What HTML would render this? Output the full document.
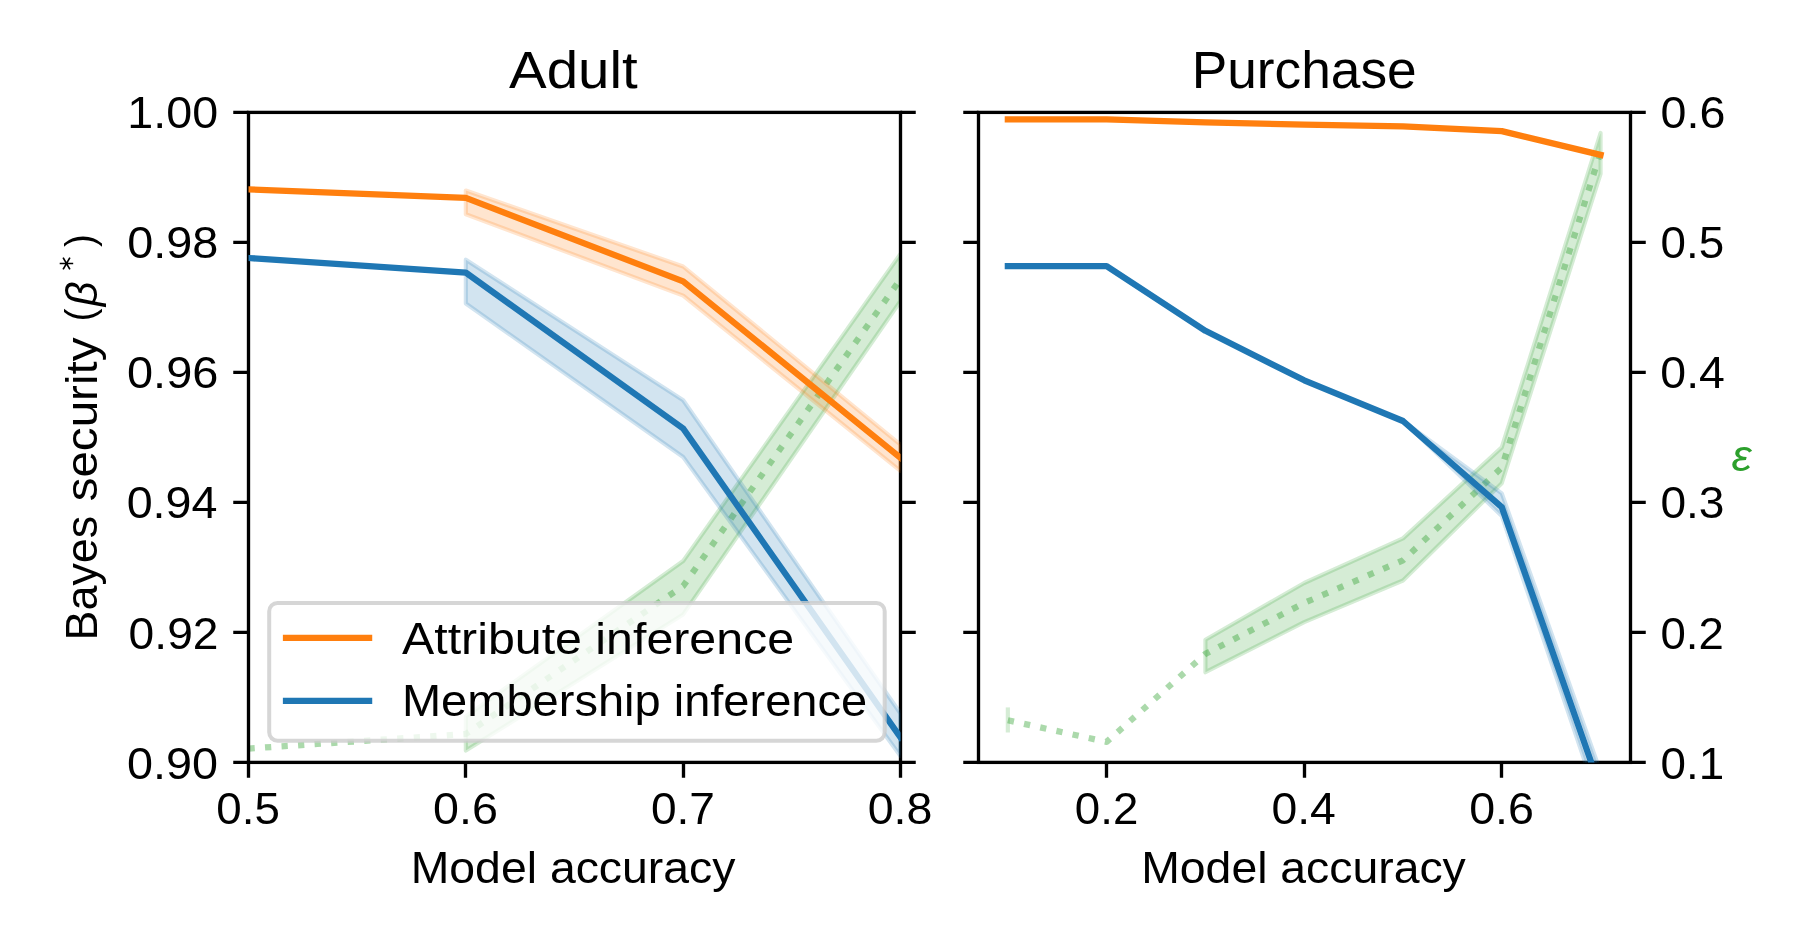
<!DOCTYPE html>
<html><head><meta charset="utf-8"><style>html,body{margin:0;padding:0;background:#fff;overflow:hidden}svg{display:block;will-change:transform}text{font-kerning:none}</style></head>
<body><svg width="1800" height="937" viewBox="0 0 1800 937"><defs><clipPath id="cl"><rect x="248.5" y="112.4" width="652.0" height="650.0"/></clipPath><clipPath id="cr"><rect x="978.5" y="112.4" width="652.0" height="650.0"/></clipPath></defs>
<rect x="0" y="0" width="1800" height="937" fill="#fff"/>
<path d="M465.83,716.50 L683.17,561.00 L900.50,253.90 L900.50,301.00 L683.17,614.40 L465.83,750.60 Z" fill="#2ca02c" fill-opacity="0.2" stroke="#2ca02c" stroke-opacity="0.2" stroke-width="4.17" stroke-linejoin="round" clip-path="url(#cl)"/>
<polyline points="248.50,748.60 465.83,734.00 683.17,586.00 900.50,279.00" fill="none" stroke="#2ca02c" stroke-opacity="0.4" stroke-width="6.25" stroke-dasharray="6.25 10.31" stroke-linecap="butt" stroke-linejoin="round" clip-path="url(#cl)"/>
<path d="M1205.41,639.80 L1304.20,583.00 L1402.99,538.40 L1501.78,447.40 L1600.56,133.00 L1600.56,173.80 L1501.78,483.20 L1402.99,580.50 L1304.20,622.20 L1205.41,672.20 Z" fill="#2ca02c" fill-opacity="0.2" stroke="#2ca02c" stroke-opacity="0.2" stroke-width="4.17" stroke-linejoin="round" clip-path="url(#cr)"/>
<line x1="1007.84" y1="707.4" x2="1007.84" y2="732.5" stroke="#2ca02c" stroke-opacity="0.2" stroke-width="4.17"/>
<polyline points="1007.84,720.30 1106.62,741.90 1205.41,653.90 1304.20,603.00 1402.99,560.30 1501.78,467.60 1600.56,152.00" fill="none" stroke="#2ca02c" stroke-opacity="0.4" stroke-width="6.25" stroke-dasharray="6.25 10.31" stroke-linecap="butt" stroke-linejoin="round" clip-path="url(#cr)"/>
<rect x="248.5" y="112.4" width="652.0" height="650.0" stroke="#000" stroke-width="3.33" fill="none" stroke-linejoin="miter" stroke-linecap="square"/>
<rect x="978.5" y="112.4" width="652.0" height="650.0" stroke="#000" stroke-width="3.33" fill="none" stroke-linejoin="miter" stroke-linecap="square"/>
<path d="M233.25,762.40 H248.5 M900.5,762.40 H915.75 M233.25,632.40 H248.5 M900.5,632.40 H915.75 M233.25,502.40 H248.5 M900.5,502.40 H915.75 M233.25,372.40 H248.5 M900.5,372.40 H915.75 M233.25,242.40 H248.5 M900.5,242.40 H915.75 M233.25,112.40 H248.5 M900.5,112.40 H915.75 M963.25,762.40 H978.5 M1630.5,762.40 H1645.75 M963.25,632.40 H978.5 M1630.5,632.40 H1645.75 M963.25,502.40 H978.5 M1630.5,502.40 H1645.75 M963.25,372.40 H978.5 M1630.5,372.40 H1645.75 M963.25,242.40 H978.5 M1630.5,242.40 H1645.75 M963.25,112.40 H978.5 M1630.5,112.40 H1645.75 M248.50,762.4 V777.65 M465.50,762.4 V777.65 M683.50,762.4 V777.65 M900.50,762.4 V777.65 M1106.50,762.4 V777.65 M1304.50,762.4 V777.65 M1501.50,762.4 V777.65" stroke="#000" stroke-width="3.33" fill="none"/>
<path d="M465.83,190.50 L683.17,266.50 L900.50,444.70 L900.50,471.00 L683.17,295.60 L465.83,214.20 Z" fill="#ff7f0e" fill-opacity="0.2" stroke="#ff7f0e" stroke-opacity="0.2" stroke-width="4.17" stroke-linejoin="round" clip-path="url(#cl)"/>
<polyline points="248.50,189.40 465.83,197.90 683.17,281.40 900.50,457.80" fill="none" stroke="#ff7f0e" stroke-width="6.25" stroke-linecap="square" stroke-linejoin="round" clip-path="url(#cl)" />
<path d="M465.83,259.70 L683.17,400.20 L900.50,713.50 L900.50,756.00 L683.17,457.00 L465.83,303.50 Z" fill="#1f77b4" fill-opacity="0.2" stroke="#1f77b4" stroke-opacity="0.2" stroke-width="4.17" stroke-linejoin="round" clip-path="url(#cl)"/>
<polyline points="248.50,258.00 465.83,272.60 683.17,428.50 900.50,737.50" fill="none" stroke="#1f77b4" stroke-width="6.25" stroke-linecap="square" stroke-linejoin="round" clip-path="url(#cl)" />
<polyline points="1007.84,119.30 1106.62,119.40 1205.41,122.40 1304.20,124.60 1402.99,126.40 1501.78,131.10 1600.56,154.90" fill="none" stroke="#ff7f0e" stroke-width="6.25" stroke-linecap="square" stroke-linejoin="round" clip-path="url(#cr)" />
<path d="M1402.99,421.00 L1501.78,493.40 L1600.56,772.00 L1600.56,808.00 L1501.78,515.90 L1402.99,421.00 Z" fill="#1f77b4" fill-opacity="0.2" stroke="#1f77b4" stroke-opacity="0.2" stroke-width="4.17" stroke-linejoin="round" clip-path="url(#cr)"/>
<polyline points="1007.84,266.20 1106.62,266.20 1205.41,330.80 1304.20,380.30 1402.99,421.00 1501.78,507.10 1600.56,788.90" fill="none" stroke="#1f77b4" stroke-width="6.25" stroke-linecap="square" stroke-linejoin="round" clip-path="url(#cr)" />
<rect x="269.2" y="603" width="615.5" height="137.7" rx="8.33" ry="8.33" fill="#fff" fill-opacity="0.8" stroke="#ccc" stroke-opacity="0.8" stroke-width="4.0"/>
<line x1="286" y1="637.8" x2="369.1" y2="637.8" stroke="#ff7f0e" stroke-width="6.25" stroke-linecap="square"/>
<line x1="286" y1="700.8" x2="369.1" y2="700.8" stroke="#1f77b4" stroke-width="6.25" stroke-linecap="square"/>
<g font-family='"Liberation Sans", sans-serif'><text x="509.01" y="87.70" font-size="52.4" fill="#000" textLength="128.62" lengthAdjust="spacingAndGlyphs">Adult</text><text x="1191.67" y="87.70" font-size="52.4" fill="#000" textLength="225.02" lengthAdjust="spacingAndGlyphs">Purchase</text><text x="127.05" y="778.80" font-size="44.2" fill="#000" textLength="91.09" lengthAdjust="spacingAndGlyphs">0.90</text><text x="128.62" y="648.80" font-size="44.2" fill="#000" textLength="89.92" lengthAdjust="spacingAndGlyphs">0.92</text><text x="126.66" y="517.80" font-size="44.2" fill="#000" textLength="90.82" lengthAdjust="spacingAndGlyphs">0.94</text><text x="127.05" y="387.80" font-size="44.2" fill="#000" textLength="91.27" lengthAdjust="spacingAndGlyphs">0.96</text><text x="127.16" y="257.80" font-size="44.2" fill="#000" textLength="91.15" lengthAdjust="spacingAndGlyphs">0.98</text><text x="127.37" y="127.80" font-size="44.2" fill="#000" textLength="90.77" lengthAdjust="spacingAndGlyphs">1.00</text><text x="1660.48" y="778.80" font-size="44.2" fill="#000" textLength="63.68" lengthAdjust="spacingAndGlyphs">0.1</text><text x="1660.51" y="648.80" font-size="44.2" fill="#000" textLength="63.36" lengthAdjust="spacingAndGlyphs">0.2</text><text x="1660.43" y="517.80" font-size="44.2" fill="#000" textLength="64.05" lengthAdjust="spacingAndGlyphs">0.3</text><text x="1660.37" y="387.80" font-size="44.2" fill="#000" textLength="64.56" lengthAdjust="spacingAndGlyphs">0.4</text><text x="1660.49" y="257.80" font-size="44.2" fill="#000" textLength="63.60" lengthAdjust="spacingAndGlyphs">0.5</text><text x="1660.58" y="127.80" font-size="44.2" fill="#000" textLength="64.78" lengthAdjust="spacingAndGlyphs">0.6</text><text x="216.33" y="823.90" font-size="44.2" fill="#000" textLength="63.54" lengthAdjust="spacingAndGlyphs">0.5</text><text x="433.08" y="823.90" font-size="44.2" fill="#000" textLength="64.86" lengthAdjust="spacingAndGlyphs">0.6</text><text x="650.91" y="823.90" font-size="44.2" fill="#000" textLength="64.09" lengthAdjust="spacingAndGlyphs">0.7</text><text x="867.73" y="823.90" font-size="44.2" fill="#000" textLength="64.70" lengthAdjust="spacingAndGlyphs">0.8</text><text x="1074.84" y="823.90" font-size="44.2" fill="#000" textLength="63.46" lengthAdjust="spacingAndGlyphs">0.2</text><text x="1271.46" y="823.90" font-size="44.2" fill="#000" textLength="64.43" lengthAdjust="spacingAndGlyphs">0.4</text><text x="1469.21" y="823.90" font-size="44.2" fill="#000" textLength="64.80" lengthAdjust="spacingAndGlyphs">0.6</text><text x="410.67" y="882.80" font-size="44.0" fill="#000" textLength="324.84" lengthAdjust="spacingAndGlyphs">Model accuracy</text><text x="1141.24" y="882.80" font-size="44.0" fill="#000" textLength="324.55" lengthAdjust="spacingAndGlyphs">Model accuracy</text><text x="402.03" y="653.70" font-size="44.0" fill="#000" textLength="392.12" lengthAdjust="spacingAndGlyphs">Attribute inference</text><text x="401.96" y="716.00" font-size="44.0" fill="#000" textLength="465.17" lengthAdjust="spacingAndGlyphs">Membership inference</text><text x="1731.57" y="471.00" font-size="44.0" fill="#2ca02c" font-style="italic" textLength="20.10" lengthAdjust="spacingAndGlyphs">ε</text><g transform="translate(97.00,0) rotate(-90)"><text x="-640.48" y="0.00" font-size="44.0" fill="#000" textLength="124.72" lengthAdjust="spacingAndGlyphs">Bayes</text></g><g transform="translate(97.00,0) rotate(-90)"><text x="-501.35" y="0.00" font-size="44.0" fill="#000" textLength="163.77" lengthAdjust="spacingAndGlyphs">security</text></g><g transform="translate(93.50,0) rotate(-90)"><text x="-321.62" y="0.00" font-size="41.0" fill="#000" textLength="12.97" lengthAdjust="spacingAndGlyphs">(</text></g><g transform="translate(97.00,0) rotate(-90)"><text x="-306.23" y="0.00" font-size="44.0" fill="#000" font-style="italic" textLength="24.86" lengthAdjust="spacingAndGlyphs">β</text></g><g transform="translate(93.50,0) rotate(-90)"><text x="-247.05" y="0.00" font-size="41.0" fill="#000" textLength="12.86" lengthAdjust="spacingAndGlyphs">)</text></g><path d="M59.7,263.5 H73.2 M63.1,257.65 L69.9,269.35 M69.9,257.65 L63.1,269.35" stroke="#000" stroke-width="1.7" fill="none"/></g></svg></body></html>
